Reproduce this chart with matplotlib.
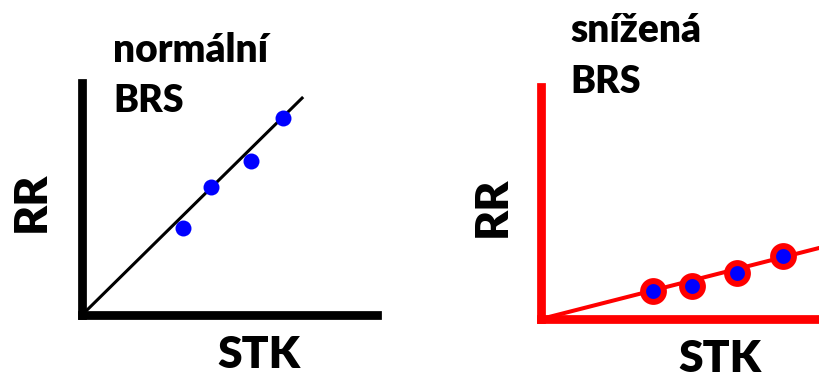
import matplotlib
matplotlib.use("Agg")
import matplotlib.pyplot as plt

# normal BRS (left panel), arbitrary units 0..10
norm_line_x = [0, 7.46]
norm_line_y = [0, 9.35]
norm_stk = [3.42, 4.37, 5.73, 6.81]
norm_rr = [3.77, 5.50, 6.62, 8.48]

# reduced BRS (right panel)
red_line_x = [0, 10]
red_line_y = [0, 3.06]
red_stk = [4.03, 5.43, 7.05, 8.71]
red_rr = [1.21, 1.42, 1.98, 2.72]

titles = [("normální", "BRS"), ("snížená", "BRS")]

W, H = 819, 373
fig = plt.figure(figsize=(W / 100, H / 100), dpi=100)
plt.rcParams['font.family'] = ['Lato', 'DejaVu Sans']


def fx(px):
    return px / W


def fy(py):
    return 1 - py / H


def make_axes(left, right, top, bottom, color):
    ax = fig.add_axes([fx(left), fy(bottom), fx(right) - fx(left), fy(top) - fy(bottom)])
    ax.set_xlim(0, 10)
    ax.set_ylim(0, 10)
    for side in ['top', 'right']:
        ax.spines[side].set_visible(False)
    for side in ['left', 'bottom']:
        ax.spines[side].set_linewidth(6.3)
        ax.spines[side].set_color(color)
    ax.set_xticks([])
    ax.set_yticks([])
    ax.patch.set_alpha(0)
    return ax


# left panel
ax1 = make_axes(82, 377, 83, 315, 'black')
ax1.plot(norm_line_x, norm_line_y, color='black', lw=2.2, clip_on=False)
ax1.plot(norm_stk, norm_rr, 'o', color='#0000FF', ms=11.5, mew=0, clip_on=False)

# right panel
ax2 = make_axes(541, 819, 87, 319, '#FF0000')
ax2.plot(red_line_x, red_line_y, color='#FF0000', lw=2.9, clip_on=False)
ax2.plot(red_stk, red_rr, 'o', color='#0000FF', ms=15, mec='#FF0000', mew=4.3,
         clip_on=False)

# texts
tw = 'heavy'
fig.text(fx(113), fy(62), titles[0][0], fontsize=28, fontweight=tw, va='baseline')
fig.text(fx(113), fy(112), titles[0][1], fontsize=27, fontweight=tw, va='baseline')
fig.text(fx(570), fy(42), titles[1][0], fontsize=28, fontweight=tw, va='baseline')
fig.text(fx(570), fy(93), titles[1][1], fontsize=27, fontweight=tw, va='baseline')

fig.text(fx(31), fy(202), "RR", fontsize=33, fontweight=tw, rotation=90,
         ha='center', va='center')
fig.text(fx(492), fy(207), "RR", fontsize=33, fontweight=tw, rotation=90,
         ha='center', va='center')
fig.text(fx(259), fy(368), "STK", fontsize=32, fontweight=tw, ha='center', va='baseline')
fig.text(fx(720), fy(372), "STK", fontsize=32, fontweight=tw, ha='center', va='baseline')

fig.savefig('out.png', dpi=100)
